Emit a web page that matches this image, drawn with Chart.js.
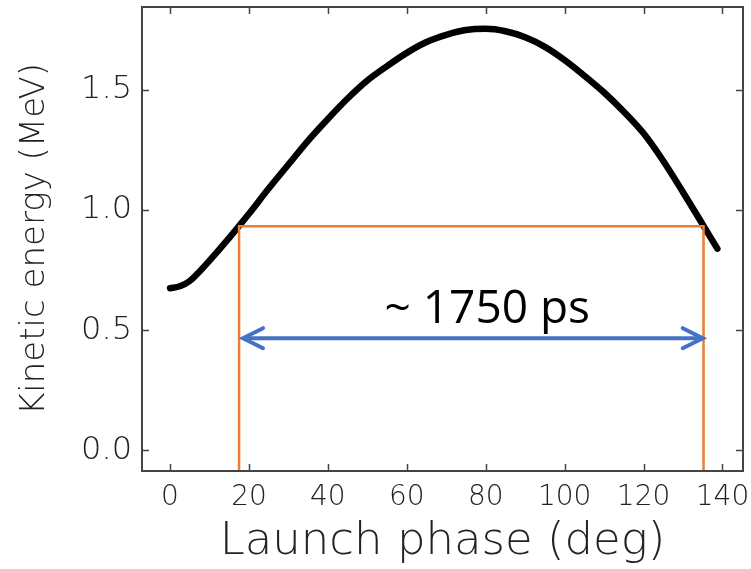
<!DOCTYPE html>
<html>
<head>
<meta charset="utf-8">
<script src="https://cdn.jsdelivr.net/npm/chart.js@4.4.1/dist/chart.umd.min.js"></script>
<style>
  html, body { margin: 0; padding: 0; background: #fff; }
</style>
</head>
<body>
<canvas id="phaseChart" width="751" height="569"></canvas>
<script>
// launch phase (deg) vs kinetic energy (MeV)
const phase = [0, 2.5, 5, 7.5, 10, 15, 20, 25, 30, 35, 40, 45, 50, 55, 60, 65, 70, 75, 80, 85, 90, 95, 100, 105, 110, 115, 120, 125, 130, 135, 138.7];
const energy = [0.675, 0.683, 0.705, 0.745, 0.79, 0.885, 0.985, 1.09, 1.19, 1.29, 1.38, 1.465, 1.54, 1.60, 1.655, 1.70, 1.73, 1.75, 1.755, 1.745, 1.72, 1.68, 1.625, 1.56, 1.49, 1.41, 1.32, 1.205, 1.075, 0.94, 0.84];

// orange window and blue arrow
const windowPhase = [17.5, 135.2];
const windowEnergy = 0.933;
const arrowPhase = [18.5, 135.0];
const arrowEnergy = 0.467;
const arrowLabel = '~ 1750 ps';
const arrowLabelAt = [80.4, 0.53];

const xTicks = [0, 20, 40, 60, 80, 100, 120, 140];
const yTicks = [0, 0.5, 1.0, 1.5];
const xRange = [-7.1, 145.2];
const yRange = [-0.086, 1.846];

const curvePts = phase.map((x, i) => ({ x: x, y: energy[i] }));
const windowPts = [
    { x: windowPhase[0], y: yRange[0] },
    { x: windowPhase[0], y: windowEnergy },
    { x: windowPhase[1], y: windowEnergy },
    { x: windowPhase[1], y: yRange[0] },
];
const arrowPts = arrowPhase.map((x) => ({ x: x, y: arrowEnergy }));

const axisColor = '#444';
const textColor = '#222';
const thinFont = 'DejaVu Sans';

// box round the plot with inward ticks on all four sides
const frame = {
    id: 'frame',
    afterDatasetsDraw(chart) {
        const { ctx, chartArea: a, scales } = chart;
        ctx.save();
        ctx.strokeStyle = axisColor;
        ctx.lineWidth = 1.5;
        const len = 7;
        ctx.beginPath();
        xTicks.forEach((v) => {
            const px = Math.round(scales.x.getPixelForValue(v)) + 0.5;
            ctx.moveTo(px, a.bottom); ctx.lineTo(px, a.bottom - len);
            ctx.moveTo(px, a.top); ctx.lineTo(px, a.top + len);
        });
        yTicks.forEach((v) => {
            const py = Math.round(scales.y.getPixelForValue(v)) + 0.5;
            ctx.moveTo(a.left, py); ctx.lineTo(a.left + len, py);
            ctx.moveTo(a.right, py); ctx.lineTo(a.right - len, py);
        });
        ctx.stroke();
        ctx.lineWidth = 2;
        ctx.strokeRect(a.left, a.top, a.right - a.left, a.bottom - a.top);
        ctx.restore();
    },
};

// open arrow heads on both ends of the blue line, plus its label
const arrowBits = {
    id: 'arrowBits',
    afterDatasetsDraw(chart) {
        const { ctx, scales } = chart;
        const pts = chart.getDatasetMeta(1).data;
        const p0 = pts[0], p1 = pts[pts.length - 1];
        ctx.save();
        ctx.strokeStyle = '#4472C4';
        ctx.lineWidth = 4;
        ctx.lineCap = 'round';
        ctx.beginPath();
        ctx.moveTo(p0.x + 20, p0.y - 10); ctx.lineTo(p0.x, p0.y); ctx.lineTo(p0.x + 20, p0.y + 10);
        ctx.moveTo(p1.x - 20, p1.y - 10); ctx.lineTo(p1.x, p1.y); ctx.lineTo(p1.x - 20, p1.y + 10);
        ctx.stroke();

        ctx.fillStyle = '#000';
        ctx.font = '46px "Open Sans"';
        ctx.textAlign = 'center';
        ctx.textBaseline = 'alphabetic';
        ctx.fillText(arrowLabel, scales.x.getPixelForValue(arrowLabelAt[0]), scales.y.getPixelForValue(arrowLabelAt[1]));
        ctx.restore();
    },
};

new Chart(document.getElementById('phaseChart'), {
    type: 'line',
    data: {
        datasets: [
            {
                data: windowPts,
                borderColor: '#ED7D31',
                borderWidth: 2.5,
                pointRadius: 0,
                tension: 0,
                fill: false,
            },
            {
                data: arrowPts,
                borderColor: '#4472C4',
                borderWidth: 4,
                pointRadius: 0,
                tension: 0,
                fill: false,
            },
            {
                data: curvePts,
                borderColor: '#000',
                borderWidth: 6.5,
                borderCapStyle: 'round',
                pointRadius: 0,
                cubicInterpolationMode: 'monotone',
                fill: false,
            },
        ],
    },
    options: {
        responsive: false,
        animation: false,
        devicePixelRatio: 1,
        layout: { padding: { top: 7, right: 8, left: 0, bottom: 0 } },
        plugins: {
            legend: { display: false },
            title: { display: false },
            tooltip: { enabled: false },
        },
        scales: {
            x: {
                type: 'linear',
                min: xRange[0],
                max: xRange[1],
                afterBuildTicks: (s) => { s.ticks = xTicks.map((v) => ({ value: v })); },
                afterFit: (s) => { s.height = 98; s.paddingLeft = 0; s.paddingRight = 0; },
                grid: { display: false, drawTicks: false },
                border: { display: false },
                ticks: {
                    color: textColor,
                    padding: 10,
                    maxRotation: 0,
                    font: { family: thinFont, size: 28, weight: 200 },
                    callback: (v) => String(v),
                },
                title: {
                    display: true,
                    text: 'Launch phase (deg)',
                    color: textColor,
                    padding: { top: 0, bottom: 0 },
                    font: { family: thinFont, size: 45, weight: 200 },
                },
            },
            y: {
                type: 'linear',
                min: yRange[0],
                max: yRange[1],
                afterBuildTicks: (s) => { s.ticks = yTicks.map((v) => ({ value: v })); },
                afterFit: (s) => { s.width = 142; s.paddingTop = 0; s.paddingBottom = 0; },
                grid: { display: false, drawTicks: false },
                border: { display: false },
                ticks: {
                    color: textColor,
                    padding: 10,
                    font: { family: thinFont, size: 32, weight: 200 },
                    callback: (v) => v.toFixed(1),
                },
                title: {
                    display: true,
                    text: 'Kinetic energy (MeV)',
                    color: textColor,
                    padding: { top: 15, bottom: 0 },
                    font: { family: thinFont, size: 34, weight: 200 },
                },
            },
        },
    },
    plugins: [frame, arrowBits],
});
</script>
</body>
</html>
